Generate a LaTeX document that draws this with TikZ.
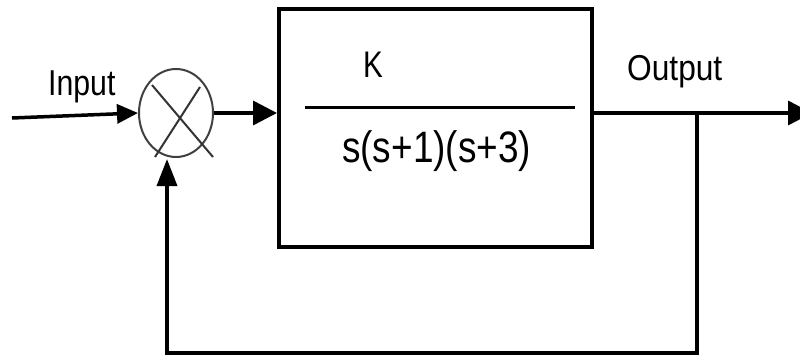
\documentclass[tikz,border=0pt]{standalone}
\usepackage{fontspec}
\setmainfont{Liberation Sans}
\usetikzlibrary{arrows.meta,shapes.geometric}
\tikzset{
  wire/.style={line width=3.5pt, black},
  tipA/.style={-{Triangle[length=24pt,width=24pt]}},
  tipB/.style={-{Triangle[length=21pt,width=19pt]}},
  tipC/.style={-{Triangle[length=27pt,width=20pt]}},
  lbl/.style={inner sep=0pt, anchor=base west},
}
\begin{document}
\begin{tikzpicture}[x=1pt,y=-1pt]
\useasboundingbox (0,0) rectangle (800,356);
% summing junction
\node[ellipse, draw=black!75, line width=2pt, minimum width=74pt, minimum height=88pt, inner sep=0pt] (sum) at (176,113) {};
\draw[line width=2pt, black!80] (152,85) -- (213,157);
\draw[line width=2pt, black!80] (200,87) -- (155,157);
% block
\node[draw, line width=4pt, minimum width=313pt, minimum height=238pt, inner sep=0pt] (blk) at (435.5,128) {};
\draw[line width=3pt] (305,107) -- (575,107);
\node[lbl, xscale=0.8, font=\fontsize{37}{40}\selectfont] (num) at (363,77) {K};
\node[lbl, xscale=0.84, font=\fontsize{44}{48}\selectfont] (den) at (342,162) {s(s+1)(s+3)};
% labels
\node[lbl, xscale=0.84, font=\fontsize{36}{40}\selectfont] (inlbl) at (48,95) {Input};
\node[lbl, xscale=0.88, font=\fontsize{36}{40}\selectfont] (outlbl) at (627,80) {Output};
% coordinates
\coordinate (in) at (12,118);
\coordinate (out) at (812,113);
\coordinate (fb) at (697,113);
\coordinate (fbd) at (697,353);
\coordinate (fbl) at (167,353);
\coordinate (fbt) at (167,159);
% connectors
\draw[wire, line width=3.5pt, tipB] (in) -- (sum.west);
\draw[wire, tipA] (sum.east) -- (sum.east -| blk.west);
\draw[wire, tipA] (sum.east -| blk.east) -- (out);
\draw[wire, tipC] (fb) -- (fbd) -- (fbl) -- (fbt);
\end{tikzpicture}
\end{document}
